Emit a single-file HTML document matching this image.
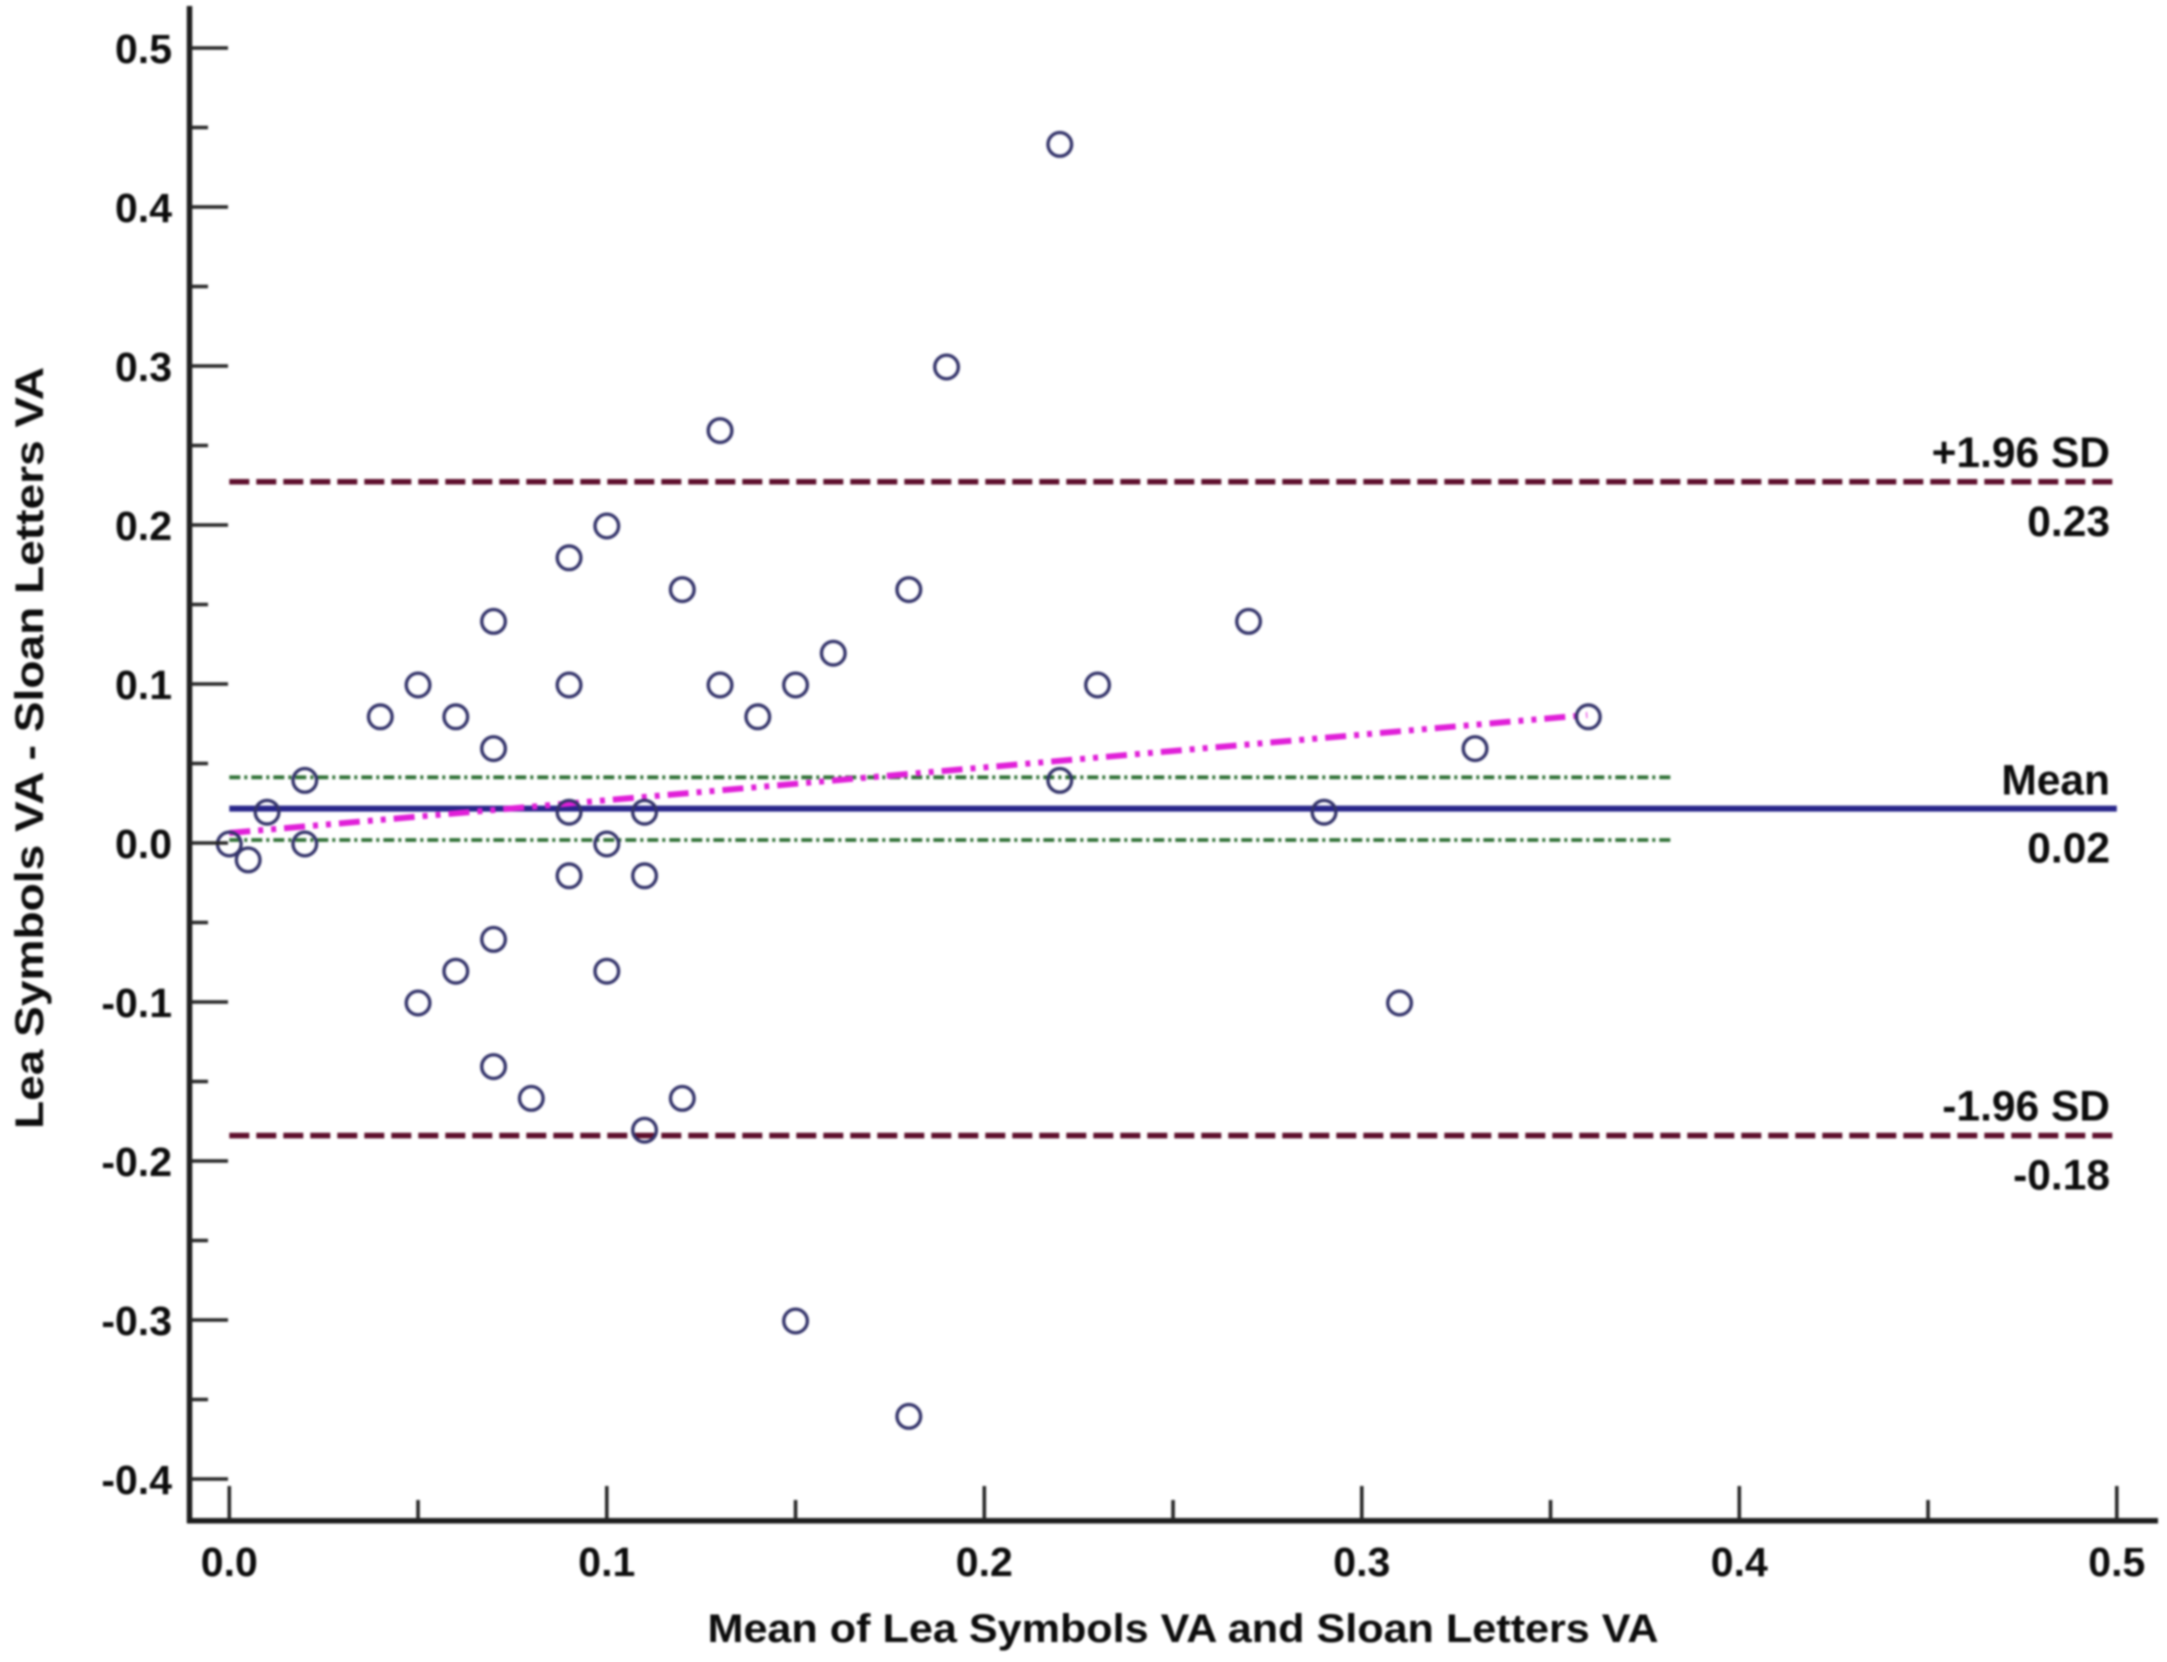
<!DOCTYPE html>
<html lang="en">
<head>
<meta charset="utf-8">
<title>Bland-Altman plot: Lea Symbols VA vs Sloan Letters VA</title>
<style>
html,body{margin:0;padding:0;background:#fff;}
#chart{display:block;width:2167px;height:1662px;filter:blur(1px);}
text{font-family:"Liberation Sans",Arial,sans-serif;font-weight:bold;fill:#0c0c0c;}
</style>
</head>
<body>
<svg id="chart" xmlns="http://www.w3.org/2000/svg" width="2167" height="1662" viewBox="0 0 2167 1662">
  <rect x="0" y="0" width="2167" height="1662" fill="#ffffff"/>
  <g id="marks"></g>
  <g id="axes"></g>
  <text x="1183" y="1642" font-size="40" text-anchor="middle" textLength="951" lengthAdjust="spacingAndGlyphs">Mean of Lea Symbols VA and Sloan Letters VA</text>
  <text transform="translate(43,748) rotate(-90)" font-size="40" text-anchor="middle" textLength="762" lengthAdjust="spacingAndGlyphs">Lea Symbols VA - Sloan Letters VA</text>
</svg>
<script>
const xMajorTicks = [0, 0.1, 0.2, 0.3, 0.4, 0.5];
const xMinorTicks = [0.05, 0.15, 0.25, 0.35, 0.45];
const xTickLabels = ['0.0', '0.1', '0.2', '0.3', '0.4', '0.5'];
const yMajorTicks = [0.5, 0.4, 0.3, 0.2, 0.1, 0, -0.1, -0.2, -0.3, -0.4];
const yMinorTicks = [0.45, 0.35, 0.25, 0.15, 0.05, -0.05, -0.15, -0.25, -0.35];
const yTickLabels = ['0.5', '0.4', '0.3', '0.2', '0.1', '0.0', '-0.1', '-0.2', '-0.3', '-0.4'];

const pointMeans = [0, 0.005, 0.01, 0.02, 0.02, 0.04, 0.05, 0.05, 0.06, 0.06, 0.07, 0.07, 0.07, 0.07, 0.08, 0.09, 0.09, 0.09, 0.09, 0.1, 0.1, 0.1, 0.11, 0.11, 0.11, 0.12, 0.12, 0.13, 0.13, 0.14, 0.15, 0.15, 0.16, 0.18, 0.18, 0.19, 0.22, 0.22, 0.23, 0.27, 0.29, 0.31, 0.33, 0.36];
const pointDiffs = [0, -0.01, 0.02, 0.04, 0, 0.08, 0.1, -0.1, 0.08, -0.08, 0.14, 0.06, -0.06, -0.14, -0.16, 0.18, 0.1, 0.02, -0.02, 0.2, 0, -0.08, 0.02, -0.02, -0.18, 0.16, -0.16, 0.26, 0.1, 0.08, 0.1, -0.3, 0.12, 0.16, -0.36, 0.3, 0.44, 0.04, 0.1, 0.14, 0.02, -0.1, 0.06, 0.08];

const meanLineValue = [0.0216];
const upperLimitValue = [0.2272];
const lowerLimitValue = [-0.184];
const limitLineXRange = [0, 0.5];
const ciUpperValue = [0.0413];
const ciLowerValue = [0.0019];
const ciLineXRange = [0, 0.3824];
const trendXValues = [0, 0.3597];
const trendYValues = [0.0063, 0.0805];

const refLabelTexts = ['+1.96 SD', '0.23', 'Mean', '0.02', '-1.96 SD', '-0.18'];

const SVGNS = 'http://www.w3.org/2000/svg';
const marks = document.getElementById('marks');
const axes = document.getElementById('axes');

function xScale(v) { return 229.3 + v * 3775; }
function yScale(v) { return 48 + (0.5 - v) * 1590; }

function makeLine(parent, x1, y1, x2, y2, color, width, dash) {
  const l = document.createElementNS(SVGNS, 'line');
  l.setAttribute('x1', x1);
  l.setAttribute('y1', y1);
  l.setAttribute('x2', x2);
  l.setAttribute('y2', y2);
  l.setAttribute('stroke', color);
  l.setAttribute('stroke-width', width);
  if (dash) l.setAttribute('stroke-dasharray', dash);
  parent.appendChild(l);
  return l;
}

function makeText(parent, x, y, str, anchor, size) {
  const t = document.createElementNS(SVGNS, 'text');
  t.setAttribute('x', x);
  t.setAttribute('y', y);
  t.setAttribute('text-anchor', anchor);
  t.setAttribute('font-size', size);
  t.textContent = str;
  parent.appendChild(t);
  return t;
}

// Reference lines
let el;
el = makeLine(marks, xScale(ciLineXRange[0]), yScale(ciUpperValue[0]), xScale(ciLineXRange[1]), yScale(ciUpperValue[0]), '#2f7035', 3.8, '11 4 3 4');


el = makeLine(marks, xScale(ciLineXRange[0]), yScale(ciLowerValue[0]), xScale(ciLineXRange[1]), yScale(ciLowerValue[0]), '#2f7035', 3.8, '11 4 3 4');


el = makeLine(marks, xScale(limitLineXRange[0]), yScale(upperLimitValue[0]), xScale(limitLineXRange[1]), yScale(upperLimitValue[0]), '#5e0f2c', 5.6, '20 7');


el = makeLine(marks, xScale(limitLineXRange[0]), yScale(lowerLimitValue[0]), xScale(limitLineXRange[1]), yScale(lowerLimitValue[0]), '#5e0f2c', 5.6, '20 7');


el = makeLine(marks, xScale(limitLineXRange[0]), yScale(meanLineValue[0]), xScale(limitLineXRange[1]), yScale(meanLineValue[0]), '#28268a', 6);


el = makeLine(marks, xScale(trendXValues[0]), yScale(trendYValues[0]), xScale(trendXValues[1]), yScale(trendYValues[1]), '#e01fd8', 6, '21 8 5 8 5 8');



// Points
pointMeans.forEach(function (m, i) {
  const c = document.createElementNS(SVGNS, 'circle');
  c.setAttribute('cx', xScale(m));
  c.setAttribute('cy', yScale(pointDiffs[i]) + 1);
  c.setAttribute('r', 11.8);
  c.setAttribute('fill', 'none');
  c.setAttribute('stroke', '#33336a');
  c.setAttribute('stroke-width', 3.4);
  
  
  marks.appendChild(c);
});

// Axis lines
el = makeLine(axes, 189.5, 6, 189.5, 1523, '#1c1c1c', 5.5);


el = makeLine(axes, 187, 1520.7, 2158, 1520.7, '#1c1c1c', 5.5);



// X ticks
xMajorTicks.forEach(function (v, i) {
  const tick = makeLine(axes, xScale(v), 1486, xScale(v), 1520, '#262626', 3.6);
  
  
  const label = makeText(axes, xScale(v), 1576, xTickLabels[i], 'middle', 41);
  
  
});
xMinorTicks.forEach(function (v) {
  const tick = makeLine(axes, xScale(v), 1500, xScale(v), 1520, '#262626', 3.6);
  
  
});

// Y ticks
yMajorTicks.forEach(function (v, i) {
  const tick = makeLine(axes, 190, yScale(v), 228, yScale(v), '#262626', 3.6);
  
  
  const label = makeText(axes, 172, yScale(v) + 15, yTickLabels[i], 'end', 41);
  
  
});
yMinorTicks.forEach(function (v) {
  const tick = makeLine(axes, 190, yScale(v), 208, yScale(v), '#262626', 3.6);
  
  
});

// Reference line labels (placed relative to their lines)
let refLabel;
refLabel = makeText(axes, 2110, yScale(upperLimitValue[0]) - 15, refLabelTexts[0], 'end', 42.5);


refLabel = makeText(axes, 2110, yScale(upperLimitValue[0]) + 54, refLabelTexts[1], 'end', 42.5);


refLabel = makeText(axes, 2110, yScale(meanLineValue[0]) - 14, refLabelTexts[2], 'end', 42.5);


refLabel = makeText(axes, 2110, yScale(meanLineValue[0]) + 54, refLabelTexts[3], 'end', 42.5);


refLabel = makeText(axes, 2110, yScale(lowerLimitValue[0]) - 15, refLabelTexts[4], 'end', 42.5);


refLabel = makeText(axes, 2110, yScale(lowerLimitValue[0]) + 54, refLabelTexts[5], 'end', 42.5);


</script>
</body>
</html>
